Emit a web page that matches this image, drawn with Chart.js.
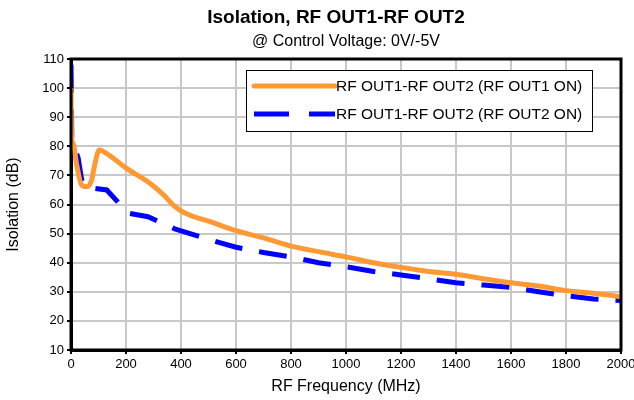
<!DOCTYPE html>
<html>
<head>
<meta charset="utf-8">
<script src="https://cdn.jsdelivr.net/npm/chart.js@4.4.1/dist/chart.umd.min.js"></script>
<style>
  html, body { margin: 0; padding: 0; background: #fff; }
  #wrap { width: 634px; height: 400px; }
</style>
</head>
<body>
<div id="wrap"><canvas id="mycanvas" width="634" height="400"></canvas></div>
<script>
// RF OUT1 ON (orange, solid)
var out1Freq = [0, 2, 8, 20, 39, 57, 75, 87, 103, 130, 202, 287, 340, 372, 400, 450, 500, 600, 700, 800, 900, 1000, 1100, 1200, 1300, 1400, 1500, 1600, 1700, 1800, 1900, 2000];
var out1Iso  = [100, 83, 81, 74, 66.7, 66.1, 68.4, 74, 78.7, 77.5, 72.4, 67.3, 63, 59.8, 57.8, 55.7, 54.3, 51, 48.5, 45.7, 43.8, 42, 40, 38.4, 37, 36, 34.5, 33.1, 32, 30.4, 29.5, 28.3];

// RF OUT2 ON (blue, dashed)
var out2Freq = [0, 3, 26, 39, 50, 130, 208, 280, 380, 500, 600, 700, 800, 900, 1000, 1100, 1200, 1300, 1400, 1500, 1600, 1700, 1800, 1900, 2000];
var out2Iso  = [108, 82, 76, 68.4, 66, 65, 57, 55.8, 51.5, 48, 45.3, 43.5, 42, 40, 38.6, 37, 35.8, 34.5, 33.1, 32.3, 31.5, 30, 28.7, 27.5, 27];

var seriesLabels = ['RF OUT1-RF OUT2 (RF OUT1 ON)', 'RF OUT1-RF OUT2 (RF OUT2 ON)'];
var xTicks = [0, 200, 400, 600, 800, 1000, 1200, 1400, 1600, 1800, 2000];
var yTicks = [10, 20, 30, 40, 50, 60, 70, 80, 90, 100, 110];

function toPoints(xs, ys) {
  var pts = [];
  for (var i in xs) {
    pts.push({x: xs[i], y: ys[i]});
  }
  return pts;
}

var FONT = 'Arial, "Liberation Sans", sans-serif';

// titles, black frame around plot, boxed legend
var framePlugin = {
  id: 'frame',
  afterDatasetsDraw: function(chart) {
    var a = chart.chartArea, ctx = chart.ctx;
    ctx.save();
    ctx.strokeStyle = '#000';
    ctx.lineWidth = 3;
    ctx.strokeRect(a.left, a.top, a.right - a.left, a.bottom - a.top);

    // titles
    ctx.fillStyle = '#000';
    ctx.textAlign = 'center';
    ctx.textBaseline = 'middle';
    ctx.font = 'bold 19px ' + FONT;
    ctx.fillText('Isolation, RF OUT1-RF OUT2', 336, 18);
    ctx.font = '16px ' + FONT;
    ctx.fillText('@ Control Voltage: 0V/-5V', 346, 42);

    // legend box
    var bx = 246, by = 70, bw = 346, bh = 61;
    ctx.fillStyle = '#fff';
    ctx.fillRect(bx, by, bw, bh);
    ctx.lineWidth = 1;
    ctx.strokeStyle = '#000';
    ctx.strokeRect(bx + 0.5, by + 0.5, bw, bh);
    ctx.textAlign = 'left';
    var ds = chart.data.datasets;
    for (var i = 0; i < ds.length; i++) {
      var y = by + 16 + i * 28;
      ctx.beginPath();
      ctx.strokeStyle = ds[i].borderColor;
      ctx.lineWidth = ds[i].borderWidth;
      ctx.lineCap = i === 0 ? 'round' : 'butt';
      ctx.setLineDash(i === 0 ? [] : [35, 20]);
      ctx.moveTo(254, y);
      ctx.lineTo(335, y);
      ctx.stroke();
      ctx.setLineDash([]);
      ctx.fillStyle = '#000';
      ctx.font = '15.5px ' + FONT;
      ctx.fillText(ds[i].label, 336, y + 1);
    }
    ctx.restore();
  }
};

var ctx = document.getElementById('mycanvas');

var chart = new Chart(ctx, {
  type: 'scatter',
  data: {
    datasets: [
      {
        label: seriesLabels[0],
        data: toPoints(out1Freq, out1Iso),
        showLine: true,
        borderColor: '#FF9933',
        borderWidth: 5,
        pointRadius: 0,
        cubicInterpolationMode: 'monotone'
      },
      {
        label: seriesLabels[1],
        data: toPoints(out2Freq, out2Iso),
        showLine: true,
        borderColor: '#0000FF',
        borderWidth: 5,
        borderDash: [28, 17],
        pointRadius: 0,
        tension: 0
      }
    ]
  },
  options: {
    responsive: false,
    animation: false,
    layout: { padding: { left: 0, right: 13, top: 59, bottom: 0 } },
    plugins: {
      legend: { display: false },
      tooltip: { enabled: false },
      title: { display: false }
    },
    scales: {
      x: {
        type: 'linear',
        min: 0,
        max: 2000,
        afterBuildTicks: function(scale) {
          scale.ticks = xTicks.map(function(v) { return {value: v}; });
        },
        afterFit: function(scale) {
          scale.height = 50;
          scale.paddingLeft = 0;
          scale.paddingRight = 0;
        },
        grid: { color: '#c8c8c8', lineWidth: 2, tickColor: '#000', tickWidth: 2, tickLength: 4 },
        border: { color: '#000', width: 3 },
        ticks: {
          color: '#000', font: { family: FONT, size: 13 }, padding: 3, maxRotation: 0,
          callback: function(v) { return String(v); }
        },
        title: { display: true, text: 'RF Frequency (MHz)', color: '#000', font: { family: FONT, size: 16 }, padding: { top: 0 } }
      },
      y: {
        min: 10,
        max: 110,
        afterBuildTicks: function(scale) {
          scale.ticks = yTicks.map(function(v) { return {value: v}; });
        },
        afterFit: function(scale) {
          scale.width = 71;
          scale.paddingTop = 0;
          scale.paddingBottom = 0;
        },
        grid: { color: '#c8c8c8', lineWidth: 2, tickColor: '#000', tickWidth: 2, tickLength: 4 },
        border: { color: '#000', width: 3 },
        ticks: { color: '#000', font: { family: FONT, size: 13 }, padding: 3 },
        title: { display: true, text: 'Isolation (dB)', color: '#000', font: { family: FONT, size: 16 }, padding: { bottom: 4 } }
      }
    }
  },
  plugins: [framePlugin]
});
</script>
</body>
</html>
